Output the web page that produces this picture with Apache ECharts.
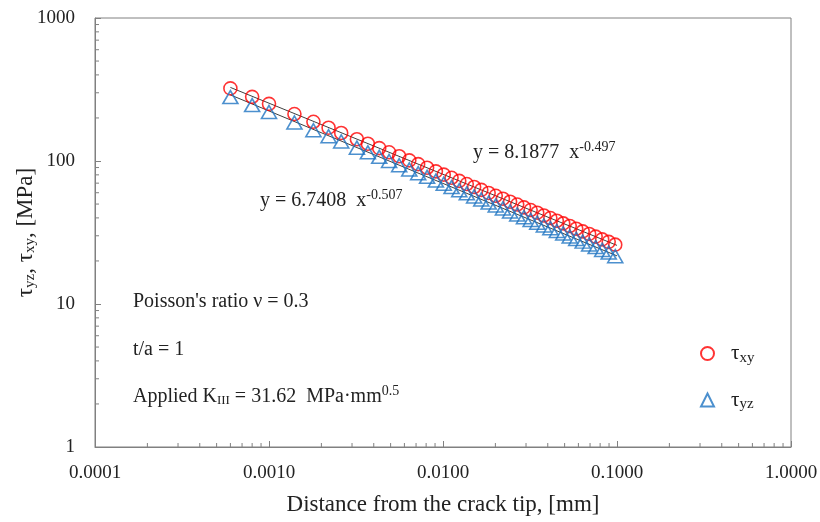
<!DOCTYPE html>
<html>
<head>
    <meta charset="utf-8">
    <script src="https://cdn.jsdelivr.net/npm/echarts@6/dist/echarts.min.js"></script>
    <style type="text/css">
        body { margin: 0; background: #fff; }
        #main { width: 820px; height: 522px; }
    </style>
</head>
<body>
    <div id="main"></div>
    <script>
        // distance from crack tip [mm]
        const dist = [0.0006, 0.0008, 0.001, 0.0014, 0.0018, 0.0022, 0.0026, 0.0032, 0.0037, 0.0043,
            0.0049, 0.0056, 0.0064, 0.0072, 0.0081, 0.0091, 0.0101, 0.0112, 0.0124, 0.0137,
            0.0151, 0.0166, 0.0183, 0.0201, 0.0221, 0.0243, 0.0267, 0.0292, 0.0319, 0.0348,
            0.0380, 0.0414, 0.0451, 0.0491, 0.0535, 0.0583, 0.0635, 0.0692, 0.0754, 0.0822,
            0.0896, 0.0977];
        // tau_xy [MPa]
        const tauXY = [322, 281, 251, 213, 188, 171, 157, 142, 132, 123,
            115, 108, 101, 95.1, 89.7, 84.6, 80.3, 76.3, 72.6, 69.0,
            65.8, 62.8, 59.8, 57.1, 54.5, 51.9, 49.6, 47.4, 45.4, 43.5,
            41.6, 39.9, 38.2, 36.6, 35.1, 33.6, 32.2, 30.9, 29.6, 28.3,
            27.2, 26.0];
        // tau_yz [MPa]
        const tauYZ = [280, 246, 220, 186, 164, 149, 137, 124, 115, 107,
            100, 93.4, 87.3, 82.2, 77.5, 73.0, 69.3, 65.7, 62.4, 59.4,
            56.5, 53.8, 51.2, 48.9, 46.6, 44.4, 42.3, 40.4, 38.7, 37.0,
            35.4, 33.9, 32.4, 31.1, 29.7, 28.5, 27.3, 26.1, 25.0, 23.9,
            22.9, 21.6];
        // power-law trend lines (end points)
        const trendX = [0.0006, 0.1];
        const trendXY = [327, 25.7];
        const trendYZ = [290, 21.7];
        // minor tick positions
        const minorX = [0.0002, 0.0003, 0.0004, 0.0005, 0.0006, 0.0007, 0.0008, 0.0009,
            0.002, 0.003, 0.004, 0.005, 0.006, 0.007, 0.008, 0.009,
            0.02, 0.03, 0.04, 0.05, 0.06, 0.07, 0.08, 0.09,
            0.2, 0.3, 0.4, 0.5, 0.6, 0.7, 0.8, 0.9];
        const minorY = [2, 3, 4, 5, 6, 7, 8, 9, 20, 30, 40, 50, 60, 70, 80, 90,
            200, 300, 400, 500, 600, 700, 800, 900];

        const FONT = 'Liberation Serif';
        const AXIS_C = '#808080';
        const INK = '#222';
        const RED = '#ff0000';
        const BLUE = '#1f74c2';

        const zip = (a, b) => a.map((v, i) => [v, b[i]]);

        const myChart = echarts.init(document.getElementById('main'));

        function tickSeries(data, dir) {
            return {
                type: 'custom',
                silent: true,
                z: 1,
                data: data,
                renderItem: (params, api) => {
                    const p = api.coord([api.value(0), api.value(1)]);
                    const shape = dir === 'x'
                        ? { x1: p[0], y1: p[1], x2: p[0], y2: p[1] - 4 }
                        : { x1: p[0], y1: p[1], x2: p[0] + 4, y2: p[1] };
                    return { type: 'line', shape: shape, style: { stroke: AXIS_C, lineWidth: 1 } };
                }
            };
        }

        // rich text styles for annotations
        const norm = { fontFamily: FONT, fontSize: 20, fill: INK };
        const sup = { fontFamily: FONT, fontSize: 14, fill: INK, padding: [0, 0, 11, 0] };
        const sub = { fontFamily: FONT, fontSize: 13, fill: INK, padding: [9, 0, 0, 0] };
        const note = (left, top, text) => ({
            type: 'text', left: left, top: top,
            style: { text: text, fontFamily: FONT, fontSize: 20, fill: INK, rich: { a: norm, b: sup, s: sub } }
        });

        myChart.setOption({
            animation: false,
            grid: { left: 95, right: 29, top: 18, bottom: 75, show: true, borderColor: AXIS_C, borderWidth: 1,
                containLabel: false, outerBoundsMode: 'none' },
            xAxis: {
                type: 'log', logBase: 10, min: 0.0001, max: 1,
                name: 'Distance from the crack tip, [mm]',
                nameLocation: 'middle', nameGap: 46,
                nameTextStyle: { fontFamily: FONT, fontSize: 23, color: INK },
                axisLine: { lineStyle: { color: AXIS_C } },
                axisTick: { inside: true, length: 6, lineStyle: { color: AXIS_C } },
                axisLabel: { fontFamily: FONT, fontSize: 19, color: INK, margin: 17,
                    formatter: v => Number(v).toFixed(4) },
                splitLine: { show: false }
            },
            yAxis: {
                type: 'log', logBase: 10, min: 1, max: 1000,
                name: '{a|τ}{s|yz}{a|, τ}{s|xy}{a|, [MPa]}',
                nameLocation: 'middle', nameGap: 57, nameMoveOverlap: false,
                nameTextStyle: {
                    rich: {
                        a: { fontFamily: FONT, fontSize: 23, color: INK },
                        s: { fontFamily: FONT, fontSize: 15, color: INK, padding: [9, 0, 0, 0] }
                    }
                },
                axisLine: { lineStyle: { color: AXIS_C } },
                axisTick: { inside: true, length: 6, lineStyle: { color: AXIS_C } },
                axisLabel: { fontFamily: FONT, fontSize: 19, color: INK, margin: 20,
                    formatter: v => String(Math.round(v)) },
                splitLine: { show: false }
            },
            legend: {
                data: ['τxy', 'τyz'],
                orient: 'vertical', left: 695, top: 338, itemGap: 24,
                itemWidth: 13, itemHeight: 13,
                formatter: n => '{t|τ}{s|' + n.slice(1) + '}',
                textStyle: {
                    rich: {
                        t: { fontFamily: FONT, fontSize: 21, color: INK, padding: [0, 0, 0, 12] },
                        s: { fontFamily: FONT, fontSize: 15, color: INK, padding: [9, 0, 0, 0] }
                    }
                }
            },
            graphic: [
                note(473, 140, '{a|y = 8.1877  x}{b|-0.497}'),
                note(260, 188, '{a|y = 6.7408  x}{b|-0.507}'),
                note(133, 292, "Poisson's ratio ν = 0.3"),
                note(133, 340, 't/a = 1'),
                note(133, 384, '{a|Applied K}{s|III}{a| = 31.62  MPa·mm}{b|0.5}')
            ],
            series: [
                tickSeries(minorX.map(v => [v, 1]), 'x'),
                tickSeries(minorY.map(v => [0.0001, v]), 'y'),
                {
                    name: 'fitXY', type: 'line', silent: true, symbol: 'none', z: 3,
                    data: zip(trendX, trendXY), lineStyle: { color: '#404040', width: 1 }
                },
                {
                    name: 'fitYZ', type: 'line', silent: true, symbol: 'none', z: 3,
                    data: zip(trendX, trendYZ), lineStyle: { color: '#404040', width: 1 }
                },
                {
                    name: 'τxy', type: 'scatter', symbol: 'circle', symbolSize: 13, z: 4,
                    data: zip(dist, tauXY),
                    itemStyle: { color: 'rgba(0,0,0,0)', borderColor: RED, borderWidth: 1.6 }
                },
                {
                    name: 'τyz', type: 'scatter', symbol: 'triangle', symbolSize: [15, 13], z: 4,
                    data: zip(dist, tauYZ),
                    itemStyle: { color: 'rgba(0,0,0,0)', borderColor: BLUE, borderWidth: 1.6 }
                }
            ]
        });
    </script>
</body>
</html>
